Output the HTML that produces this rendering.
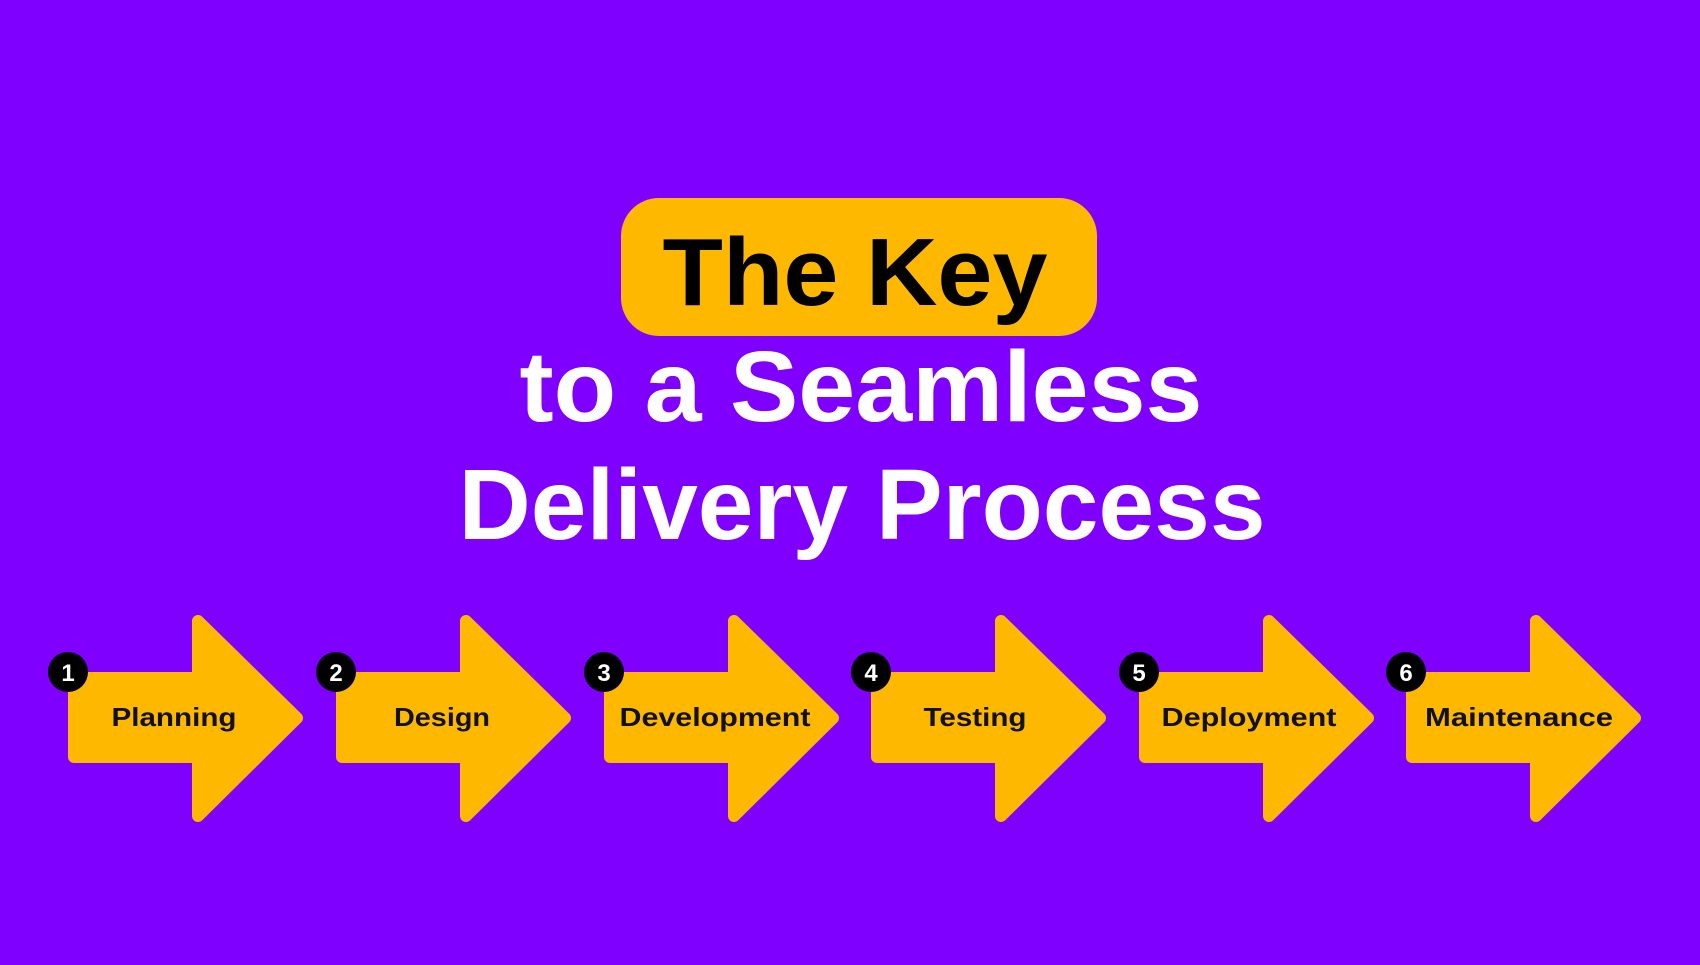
<!DOCTYPE html>
<html><head><meta charset="utf-8"><style>
html,body{margin:0;padding:0;background:#8000ff;}
svg{display:block}
</style></head><body>
<svg width="1700" height="965" viewBox="0 0 1700 965" xmlns="http://www.w3.org/2000/svg">
<rect width="1700" height="965" fill="#8000ff"/>
<rect x="621" y="198" width="476" height="138" rx="38" fill="#ffb800"/>
<g font-family="Liberation Sans, sans-serif" font-weight="bold" text-anchor="middle">
<text x="855" y="305" font-size="96" fill="#000" textLength="385" lengthAdjust="spacingAndGlyphs">The Key</text>
<text x="861" y="421" font-size="100" fill="#fff" textLength="683" lengthAdjust="spacingAndGlyphs">to a Seamless</text>
<text x="862" y="539" font-size="100" fill="#fff" textLength="807" lengthAdjust="spacingAndGlyphs">Delivery Process</text>
</g>
<defs>
<path id="arr" d="M12,678 L136,678 L136,621 L235,718 L136,816 L136,757 L12,757 Z" fill="#ffb800" stroke="#ffb800" stroke-width="12" stroke-linejoin="round"/>
</defs>
<g font-family="Liberation Sans, sans-serif" font-weight="bold">
<g transform="translate(62,0)"><use href="#arr"/><circle cx="6" cy="672" r="20" fill="#000"/><text x="6" y="681" font-size="24" fill="#fff" text-anchor="middle">1</text><text x="112" y="726" font-size="26" text-anchor="middle" fill="#111" textLength="125" lengthAdjust="spacingAndGlyphs">Planning</text></g>
<g transform="translate(330,0)"><use href="#arr"/><circle cx="6" cy="672" r="20" fill="#000"/><text x="6" y="681" font-size="24" fill="#fff" text-anchor="middle">2</text><text x="112" y="726" font-size="26" text-anchor="middle" fill="#111" textLength="96" lengthAdjust="spacingAndGlyphs">Design</text></g>
<g transform="translate(598,0)"><use href="#arr"/><circle cx="6" cy="672" r="20" fill="#000"/><text x="6" y="681" font-size="24" fill="#fff" text-anchor="middle">3</text><text x="117" y="726" font-size="26" text-anchor="middle" fill="#111" textLength="191" lengthAdjust="spacingAndGlyphs">Development</text></g>
<g transform="translate(865,0)"><use href="#arr"/><circle cx="6" cy="672" r="20" fill="#000"/><text x="6" y="681" font-size="24" fill="#fff" text-anchor="middle">4</text><text x="110" y="726" font-size="26" text-anchor="middle" fill="#111" textLength="103" lengthAdjust="spacingAndGlyphs">Testing</text></g>
<g transform="translate(1133,0)"><use href="#arr"/><circle cx="6" cy="672" r="20" fill="#000"/><text x="6" y="681" font-size="24" fill="#fff" text-anchor="middle">5</text><text x="116" y="726" font-size="26" text-anchor="middle" fill="#111" textLength="175" lengthAdjust="spacingAndGlyphs">Deployment</text></g>
<g transform="translate(1400,0)"><use href="#arr"/><circle cx="6" cy="672" r="20" fill="#000"/><text x="6" y="681" font-size="24" fill="#fff" text-anchor="middle">6</text><text x="119" y="726" font-size="26" text-anchor="middle" fill="#111" textLength="188" lengthAdjust="spacingAndGlyphs">Maintenance</text></g>
</g>
</svg>
</body></html>
